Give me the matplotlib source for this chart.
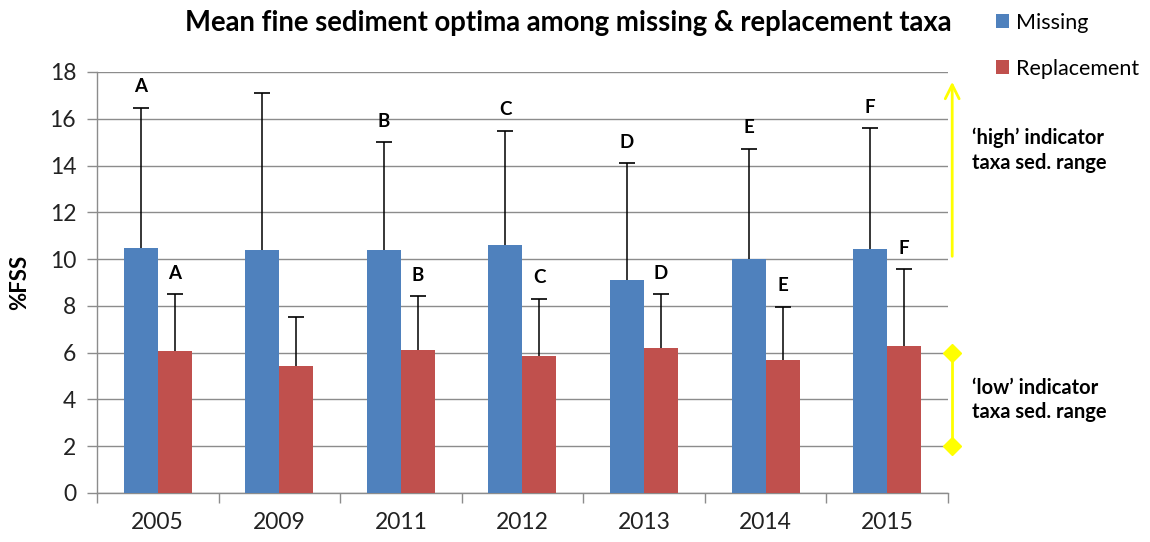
import numpy as np
import matplotlib
matplotlib.use("Agg")
import matplotlib.pyplot as plt

# ------------------------------------------
# Data
# ------------------------------------------

years = ["2005", "2009", "2011", "2012", "2013", "2014", "2015"]

missing_mean = [10.46, 10.39, 10.39, 10.62, 9.09, 9.99, 10.44]
missing_sd = [6.01, 6.69, 4.61, 4.87, 5.01, 4.73, 5.16]

replacement_mean = [6.07, 5.42, 6.13, 5.86, 6.18, 5.69, 6.30]
replacement_sd = [2.44, 2.12, 2.28, 2.45, 2.33, 2.28, 3.26]

missing_letters = ["A", "", "B", "C", "D", "E", "F"]
replacement_letters = ["A", "", "B", "C", "D", "E", "F"]

high_range = [10, 17.7]
low_range = [6, 2]

# ------------------------------------------
# Style
# ------------------------------------------

plt.rcParams["font.family"] = ["Lato", "DejaVu Sans"]

BLUE = "#4F81BD"
RED = "#C0504D"
GRID = "#8C8C8C"
YELLOW = "#FFFF00"

fig = plt.figure(figsize=(11.5, 5.42), dpi=100)
ax = fig.add_axes([0.0843, 0.0905, 0.7400, 0.7767])

x = np.arange(len(years))
w = 0.28

ax.bar(x - w / 2, missing_mean, w, color=BLUE, label="Missing", zorder=3)
ax.bar(x + w / 2, replacement_mean, w, color=RED, label="Replacement", zorder=3)

# upper error bars only, cap on top
for xs, means, sds in [(x - w / 2, missing_mean, missing_sd),
                       (x + w / 2, replacement_mean, replacement_sd)]:
    tops = np.array(means) + np.array(sds)
    ax.vlines(xs, means, tops, color="black", linewidth=1.1, zorder=4)
    ax.plot(xs, tops, linestyle="none", marker="_", markersize=11,
            markeredgewidth=1.2, color="black", zorder=4)

# significance letters above the error bars
for i in range(len(years)):
    top_m = missing_mean[i] + missing_sd[i]
    top_r = replacement_mean[i] + replacement_sd[i]
    ax.annotate(missing_letters[i], (x[i] - w / 2, top_m), xytext=(0, 15),
                textcoords="offset points", ha="center", va="center",
                fontsize=13.5, fontweight="bold")
    ax.annotate(replacement_letters[i], (x[i] + w / 2, top_r), xytext=(0, 15),
                textcoords="offset points", ha="center", va="center",
                fontsize=13.5, fontweight="bold")

# ------------------------------------------
# Axes
# ------------------------------------------

ax.set_xlim(-0.5, len(years) - 0.5)
ax.set_ylim(0, 18)
ax.set_yticks(np.arange(0, 19, 2))
ax.yaxis.grid(True, color=GRID, linewidth=1.0, zorder=0)

ax.set_xticks(x)
ax.set_xticklabels(years)
ax.set_xticks(np.arange(-0.5, len(years), 1), minor=True)
ax.tick_params(axis="x", which="major", length=0, labelsize=16.5, pad=14,
               labelcolor="#222222")
ax.tick_params(axis="x", which="minor", length=7, color=GRID, width=1)
ax.tick_params(axis="y", length=7, color=GRID, width=1, labelsize=16.5,
               labelcolor="#222222", pad=8)

for side in ["top", "right"]:
    ax.spines[side].set_visible(False)
for side in ["left", "bottom"]:
    ax.spines[side].set_color(GRID)
    ax.spines[side].set_linewidth(1.0)

ax.set_ylabel("%FSS", fontsize=16, fontweight="bold", labelpad=14)

fig.text(0.4945, 0.958, "Mean fine sediment optima among missing & replacement taxa",
         ha="center", va="center", fontsize=19.8, fontweight="bold")

# ------------------------------------------
# Indicator range markers
# ------------------------------------------

xr = 6.535
ax.annotate("", xy=(xr, high_range[1]), xytext=(xr, high_range[0]),
            arrowprops=dict(arrowstyle="->", color=YELLOW, lw=2,
                            mutation_scale=25),
            annotation_clip=False, zorder=5)
ax.plot([xr, xr], low_range, color=YELLOW, lw=2, marker="D", markersize=9,
        clip_on=False, zorder=5)

fig.text(0.845, 0.723, "\u2018high\u2019 indicator\ntaxa sed. range",
         ha="left", va="center", fontsize=14.5, fontweight="bold",
         linespacing=1.3)
fig.text(0.845, 0.262, "\u2018low\u2019 indicator\ntaxa sed. range",
         ha="left", va="center", fontsize=14.5, fontweight="bold",
         linespacing=1.3)

fig.legend(loc="upper left", bbox_to_anchor=(0.855, 1.0), frameon=False,
           fontsize=15.5, handlelength=0.6, handleheight=0.6,
           handletextpad=0.3, labelspacing=1.2, borderaxespad=0.2)

fig.savefig("out.png", dpi=100)
